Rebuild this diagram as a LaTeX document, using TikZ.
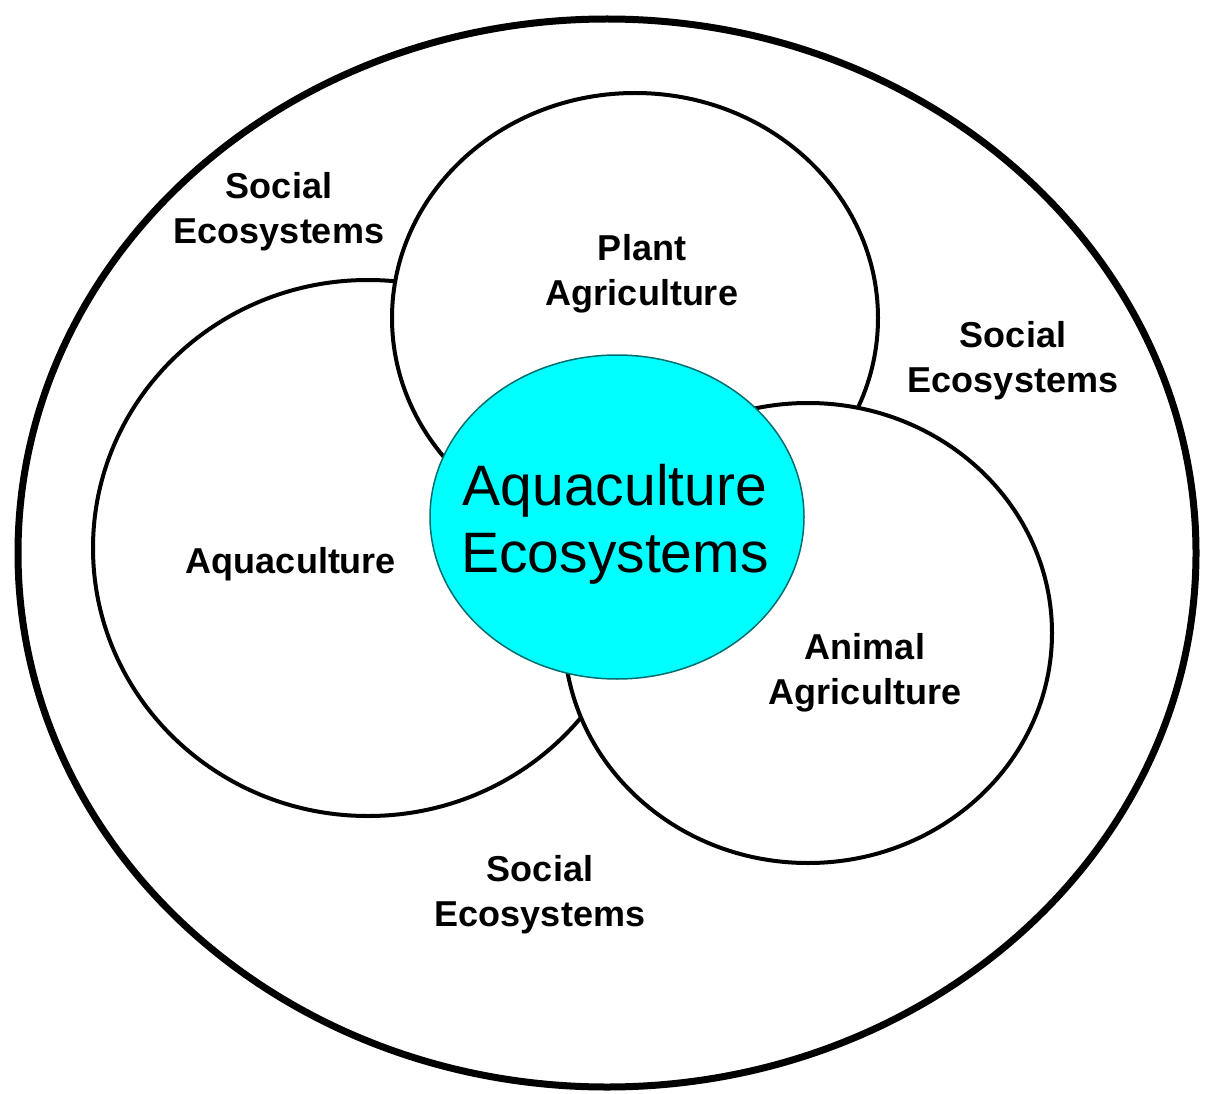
\documentclass[tikz,border=0pt]{standalone}
\usepackage{fontspec}
\setmainfont{Liberation Sans}
\usetikzlibrary{shapes.geometric}
\definecolor{aquafill}{RGB}{0,255,255}
\definecolor{aquaedge}{RGB}{0,110,110}
\begin{document}
\begin{tikzpicture}[x=1pt,y=-1pt,
  ring/.style={draw=black,line width=4pt,fill=white},
  label/.style={align=center,font=\fontsize{36}{45}\selectfont\bfseries,inner sep=0pt},
  biglabel/.style={align=center,font=\fontsize{57}{67}\selectfont,inner sep=0pt}]
\useasboundingbox[fill=white] (0,0) rectangle (1205,1094);
% outer social ecosystem ellipse
\draw[line width=7pt] (607,553) ellipse [x radius=589, y radius=534];
% sector circles
\draw[ring] (368,548) ellipse [x radius=275, y radius=268];
\draw[ring] (635,318) ellipse [x radius=243, y radius=225];
\draw[ring] (808,633) ellipse [x radius=244, y radius=230];
% core
\node[ellipse,draw=aquaedge,line width=1.5pt,fill=aquafill,minimum width=374pt,minimum height=324pt,inner sep=0pt] (core) at (617,517) {};
\node[biglabel] (coretxt) at (615,524) {Aquaculture\\Ecosystems};
% labels
\node[label] (soc1) at (279,212) {Social\\Ecosystems};
\node[label] (plant) at (642,274) {Plant\\Agriculture};
\node[label] (soc2) at (1013,361) {Social\\Ecosystems};
\node[label] (aqua) at (291,564) {Aquaculture};
\node[label] (animal) at (865,673) {Animal\\Agriculture};
\node[label] (soc3) at (540,895) {Social\\Ecosystems};
\end{tikzpicture}
\end{document}
